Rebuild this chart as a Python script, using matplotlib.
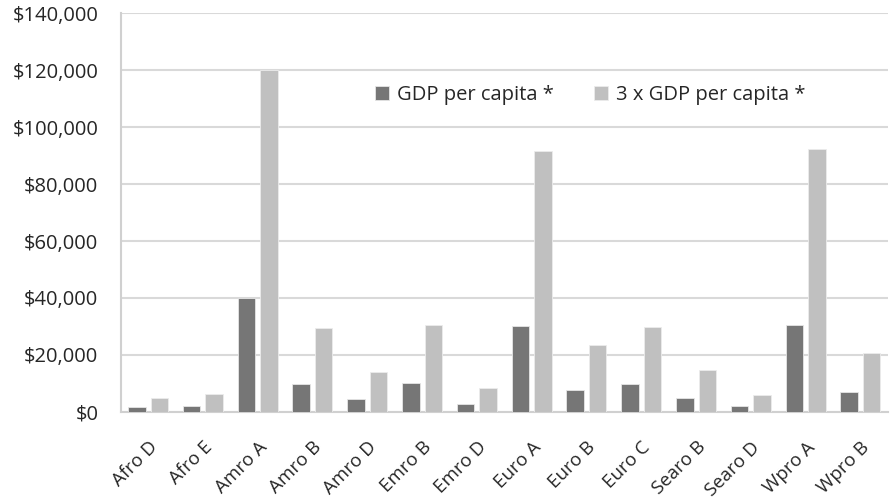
import matplotlib
matplotlib.use("Agg")
import matplotlib.pyplot as plt
import matplotlib.ticker as mticker
import numpy as np

regions = ["Afro D", "Afro E", "Amro A", "Amro B", "Amro D", "Emro B", "Emro D",
           "Euro A", "Euro B", "Euro C", "Searo B", "Searo D", "Wpro A", "Wpro B"]
gdp = [1650, 2100, 40000, 9650, 4470, 10000, 2700,
       30200, 7700, 9800, 4800, 1900, 30500, 6800]
gdp3 = [4900, 6350, 120000, 29400, 13900, 30500, 8200,
        91500, 23500, 29700, 14700, 5850, 92300, 20700]

plt.rcParams['font.family'] = ['Open Sans', 'DejaVu Sans']

fig = plt.figure(figsize=(8.9, 4.98), dpi=100)
ax = fig.add_axes([0.1356, 0.1733, 0.862, 0.7997])

x = np.arange(len(regions))
w = 0.32
off = 0.205
ax.bar(x - off, gdp, w, color='#767676', edgecolor='#e6e6e6', linewidth=0.6,
       label='GDP per capita *', zorder=3)
ax.bar(x + off, gdp3, w, color='#c0c0c0', edgecolor='#ececec', linewidth=0.6,
       label='3 x GDP per capita *', zorder=3)

ax.set_xlim(-0.5, len(regions) - 0.5)
ax.set_ylim(0, 140000)
ax.yaxis.set_major_locator(mticker.MultipleLocator(20000))
ax.yaxis.set_major_formatter(mticker.FuncFormatter(lambda v, p: f"${v:,.0f}"))
ax.grid(axis='y', color='#d9d9d9', linewidth=1.5, zorder=0)

for s in ['top', 'right']:
    ax.spines[s].set_visible(False)
for s in ['left', 'bottom']:
    ax.spines[s].set_color('#d0d0d0')
    ax.spines[s].set_linewidth(1.5)

ax.set_xticks(x)
ax.set_xticklabels(regions, rotation=45, ha='right', rotation_mode='anchor')
ax.tick_params(axis='x', length=0, pad=19, labelsize=13.5, labelcolor='#262626')
ax.tick_params(axis='y', length=0, pad=16, labelsize=14.5, labelcolor='#262626')

ax.legend(loc='center', bbox_to_anchor=(0.612, 0.795), ncol=2, frameon=False,
          fontsize=14.5, handlelength=0.7, handleheight=0.7, handletextpad=0.4,
          columnspacing=2.0, labelcolor='#262626')

fig.savefig("out.png", dpi=100)
